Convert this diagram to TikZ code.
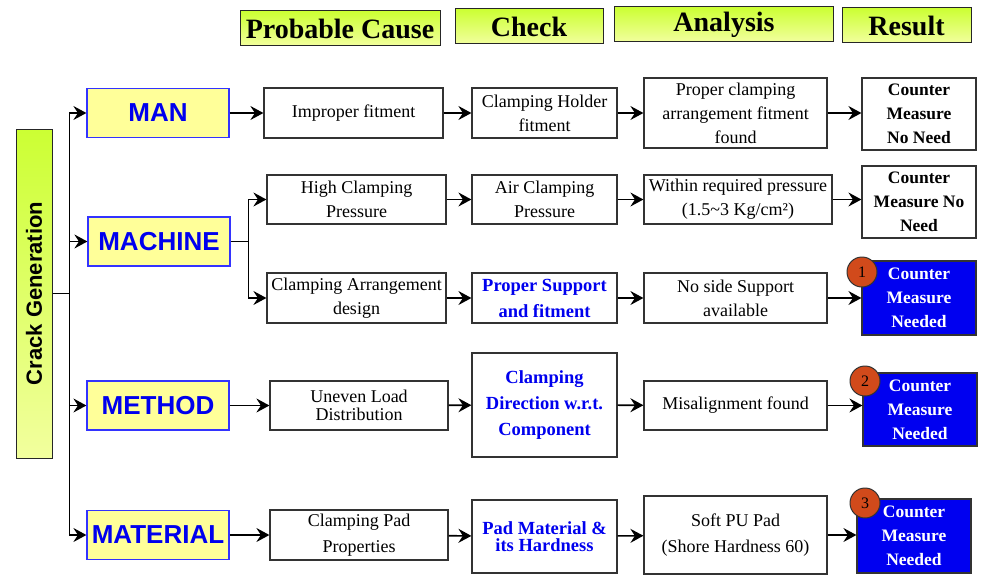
\documentclass[tikz,border=0pt]{standalone}
\usepackage{fontspec}
\setmainfont{Liberation Serif}
\setsansfont{Liberation Sans}
\usetikzlibrary{arrows.meta}
\definecolor{hdtop}{HTML}{CCFF33}
\definecolor{hdbot}{HTML}{F2FF9E}
\definecolor{catfill}{HTML}{FFFF99}
\definecolor{catline}{HTML}{3333FF}
\definecolor{bluetxt}{HTML}{0000EE}
\definecolor{resblue}{HTML}{0000F0}
\definecolor{numfill}{HTML}{D14A1B}
\tikzset{hd/.style={draw=black!85, line width=1pt, top color=hdtop, bottom color=hdbot, font=\bfseries\fontsize{28}{28}\selectfont, inner sep=0pt}}
\tikzset{ct/.style={draw=catline, line width=1.2pt, fill=catfill, text=bluetxt, font=\sffamily\bfseries\fontsize{26}{26}\selectfont, minimum width=142pt, minimum height=49pt, inner sep=0pt}}
\tikzset{bx/.style={draw=black!80, line width=1.2pt, fill=white, align=center, inner sep=0pt, font=\fontsize{18}{24}\selectfont}}
\tikzset{bb/.style={bx, text=bluetxt, font=\bfseries\fontsize{18.5}{26}\selectfont}}
\tikzset{rs/.style={bx, minimum width=114pt, font=\bfseries\fontsize{17.5}{24}\selectfont}}
\tikzset{rb/.style={rs, fill=resblue, text=white}}
\tikzset{nm/.style={circle, draw=black!80, line width=1pt, fill=numfill, minimum size=30pt, inner sep=0pt, font=\fontsize{16}{16}\selectfont}}
\tikzset{ar/.style={line width=1.6pt, -{Stealth[length=13pt,width=14pt,inset=4.5pt]}}}
\tikzset{ln/.style={line width=1.6pt}}

\begin{document}
\begin{tikzpicture}[x=1pt, y=-1pt]
    \useasboundingbox (0,0) rectangle (981,575);
    \node[hd, minimum width=200pt, minimum height=35pt] (hcause) at (340,28.5) {Probable Cause};
    \node[hd, minimum width=148pt, minimum height=35pt] (hcheck) at (529,26.5) {Check};
    \node[hd, minimum width=219pt, minimum height=35pt] (hanal) at (724,24.5) {Analysis};
    \node[hd, minimum width=129pt, minimum height=35pt] (hres) at (906.5,25.5) {Result};

    \node[draw=black!85, line width=1pt, top color=hdtop, bottom color=hdbot, minimum width=36pt, minimum height=329pt, inner sep=0pt,
      font=\sffamily\bfseries\fontsize{22}{22}\selectfont] (crack) at (34,293.5) {\rotatebox{90}{Crack Generation}};

    \node[ct] (man) at (158,113) {MAN};
    \node[ct] (machine) at (159,241.5) {MACHINE};
    \node[ct] (method) at (158,405.5) {METHOD};
    \node[ct] (material) at (158,535) {MATERIAL};

    \node[bx, minimum width=179pt, minimum height=50pt] (c1) at (353.5,113) {Improper fitment};
    \node[bx, minimum width=145pt, minimum height=50pt] (k1) at (544.5,113) {Clamping Holder\\fitment};
    \node[bx, minimum width=183pt, minimum height=70pt] (a1) at (735.5,113) {Proper clamping\\arrangement fitment\\found};
    \node[rs, minimum height=72pt] (r1) at (919,114) {Counter\\Measure\\No Need};

    \node[bx, minimum width=179pt, minimum height=49pt] (c2) at (356.5,199.5) {High Clamping\\Pressure};
    \node[bx, minimum width=145pt, minimum height=49pt] (k2) at (544.5,199.5) {Air Clamping\\Pressure};
    \node[bx, minimum width=188pt, minimum height=49pt] (a2) at (738,199.5) {Within required pressure\\(1.5\textasciitilde3 Kg/cm²)};
    \node[rs, minimum height=72pt] (r2) at (919,202) {Counter\\Measure No\\Need};

    \node[bx, minimum width=179pt, minimum height=50pt] (c3) at (356.5,298) {Clamping Arrangement\\design};
    \node[bb, minimum width=145pt, minimum height=50pt] (k3) at (544.5,298) {Proper Support\\and fitment};
    \node[bx, minimum width=183pt, minimum height=50pt] (a3) at (735.5,298) {No side Support\\available};
    \node[rb, minimum height=74pt] (r3) at (919,298) {Counter\\Measure\\Needed};

    \node[bx, minimum width=178pt, minimum height=49pt, font=\fontsize{18}{18}\selectfont] (c4) at (359,405.5) {Uneven Load\\Distribution};
    \node[bb, minimum width=145pt, minimum height=104pt] (k4) at (544.5,405) {Clamping\\Direction w.r.t.\\Component};
    \node[bx, minimum width=183pt, minimum height=49pt] (a4) at (735.5,405.5) {Misalignment found};
    \node[rb, minimum height=73pt] (r4) at (920,409.5) {Counter\\Measure\\Needed};

    \node[bx, minimum width=178pt, minimum height=50pt, font=\fontsize{18}{26}\selectfont] (c5) at (359,535) {Clamping Pad\\Properties};
    \node[bb, minimum width=145pt, minimum height=73pt, font=\bfseries\fontsize{18.5}{17}\selectfont] (k5) at (544.5,536.5) {Pad Material \&\\its Hardness};
    \node[bx, minimum width=183pt, minimum height=78pt, font=\fontsize{18}{26}\selectfont] (a5) at (735.5,535) {Soft PU Pad\\(Shore Hardness 60)};
    \node[rb, minimum height=74pt] (r5) at (914,536) {Counter\\Measure\\Needed};

    \node[nm] (n1) at (862,272) {1};
    \node[nm] (n2) at (865,381) {2};
    \node[nm] (n3) at (865,503) {3};

    \draw[ln] (crack.east) -- ++(17,0) coordinate (trunk);
    \foreach \cat in {man, machine, method, material}
      \draw[ar] (trunk) |- (\cat);
    \draw[ln] (machine.east) -- ++(18,0) coordinate (mj);
    \draw[ar] (mj) |- (c2);
    \draw[ar] (mj) |- (c3);
    \draw[ar] (man) -- (c1);
    \draw[ar] (method) -- (c4);
    \draw[ar] (material) -- (c5);
    \foreach \i in {1,...,5} {
      \draw[ar] (c\i) -- (k\i);
      \draw[ar] (k\i) -- (a\i);
      \draw[ar] (a\i.east) -- (r\i.west |- a\i.east);
    }
\end{tikzpicture}
\end{document}
